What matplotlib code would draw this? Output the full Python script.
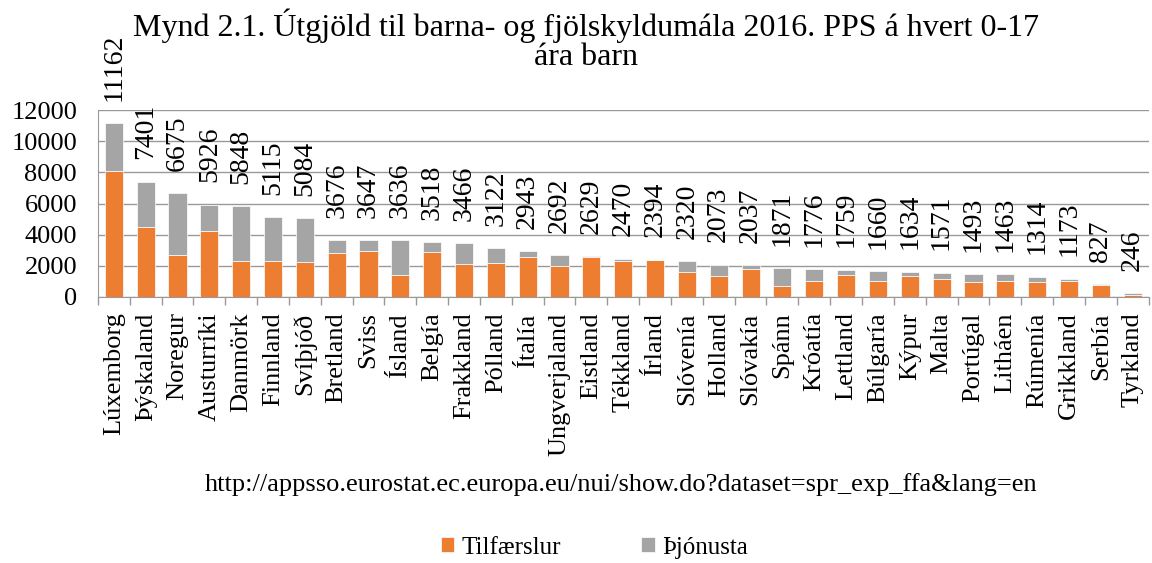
import matplotlib.pyplot as plt
import numpy as np

plt.rcParams['font.family'] = ['Liberation Serif', 'DejaVu Serif']

countries = ["Lúxemborg", "Þýskaland", "Noregur", "Austurríki", "Danmörk", "Finnland",
             "Svíþjóð", "Bretland", "Sviss", "Ísland", "Belgía", "Frakkland", "Pólland",
             "Ítalía", "Ungverjaland", "Eistland", "Tékkland", "Írland", "Slóvenía",
             "Holland", "Slóvakía", "Spánn", "Króatía", "Lettland", "Búlgaría", "Kýpur",
             "Malta", "Portúgal", "Litháen", "Rúmenía", "Grikkland", "Serbía", "Tyrkland"]
totals = [11162, 7401, 6675, 5926, 5848, 5115, 5084, 3676, 3647, 3636, 3518, 3466, 3122,
          2943, 2692, 2629, 2470, 2394, 2320, 2073, 2037, 1871, 1776, 1759, 1660, 1634,
          1571, 1493, 1463, 1314, 1173, 827, 246]
tilfaerslur = [8080, 4470, 2670, 4210, 2290, 2290, 2240, 2800, 2930, 1430, 2860, 2140, 2160,
               2540, 1970, 2540, 2290, 2350, 1580, 1370, 1770, 730, 1000, 1430, 1000, 1370,
               1130, 940, 1000, 980, 1000, 790, 130]
thjonusta = [t - o for t, o in zip(totals, tilfaerslur)]

ORANGE = '#ED7D31'
GREY = '#A5A5A5'

fig = plt.figure(figsize=(11.52, 5.63), dpi=100)
ax = fig.add_axes([0.085, 0.4725, 0.912, 0.332])

x = np.arange(len(countries))
ax.bar(x, tilfaerslur, width=0.57, color=ORANGE, edgecolor='white', linewidth=0.5,
       label='Tilfærslur', zorder=3)
ax.bar(x, thjonusta, width=0.57, bottom=tilfaerslur, color=GREY, edgecolor='white',
       linewidth=0.5, label='Þjónusta', zorder=3)

for xi, t in zip(x, totals):
    ax.annotate(str(t), (xi, t), xytext=(0, 16), textcoords='offset points',
                rotation=90, ha='center', va='bottom', fontsize=20, clip_on=False)

ax.set_xlim(-0.5, len(countries) - 0.5)
ax.set_ylim(0, 12000)
ax.set_yticks(range(0, 12001, 2000))
ax.tick_params(axis='y', length=0, labelsize=19, pad=15)
ax.yaxis.grid(True, color='#999999', linewidth=1, zorder=0)
ax.set_axisbelow(True)

ax.set_xticks(x)
ax.set_xticklabels(countries, rotation=90, fontsize=19)
ax.tick_params(axis='x', length=0, pad=11)
ax.set_xticks(np.arange(-0.5, len(countries)), minor=True)
ax.tick_params(axis='x', which='minor', length=6, color='#999999', width=1)

for s in ['top', 'right']:
    ax.spines[s].set_visible(False)
for s in ['left', 'bottom']:
    ax.spines[s].set_color('#999999')

fig.text(0.509, 0.985, "Mynd 2.1. Útgjöld til barna- og fjölskyldumála 2016. PPS á hvert 0-17\nára barn",
         ha='center', va='top', fontsize=23, linespacing=1.0)
fig.text(0.539, 0.139, "http://appsso.eurostat.ec.europa.eu/nui/show.do?dataset=spr_exp_ffa&lang=en",
         ha='center', va='center', fontsize=19)

fig.legend(loc='center', bbox_to_anchor=(0.516, 0.027), ncol=2, frameon=False,
           prop={'size': 18}, handlelength=0.55, handleheight=0.55,
           columnspacing=3.2, handletextpad=0.3)

fig.savefig('out.png', dpi=100)
